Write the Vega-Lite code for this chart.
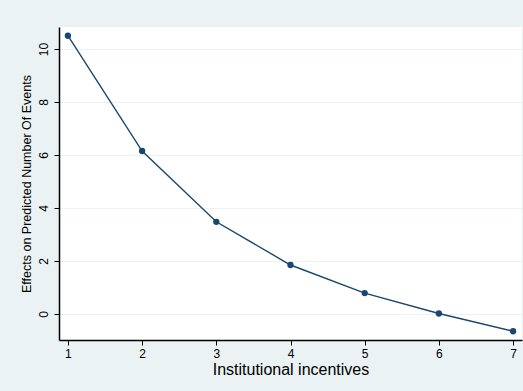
{
  "$schema": "https://vega.github.io/schema/vega-lite/v6.json",
  "width": 463,
  "height": 313,
  "autosize": {"type": "none"},
  "padding": {"left": 59, "top": 27, "right": 1, "bottom": 51},
  "background": "#EAF2F3",
  "config": {
    "view": {"fill": "white", "stroke": null},
    "font": "Liberation Sans",
    "axis": {
      "domainColor": "black",
      "tickColor": "black",
      "labelColor": "black",
      "titleColor": "black",
      "titleFontWeight": "normal",
      "labelFont": "Liberation Sans",
      "titleFont": "Liberation Sans"
    }
  },
  "data": {
    "values": [
      {"x": 1, "y": 10.5},
      {"x": 2, "y": 6.15},
      {"x": 3, "y": 3.48},
      {"x": 4, "y": 1.85},
      {"x": 5, "y": 0.79},
      {"x": 6, "y": 0.02},
      {"x": 7, "y": -0.65}
    ]
  },
  "layer": [
    {
      "mark": {"type": "line", "color": "#1A476F", "strokeWidth": 1.4},
      "encoding": {
        "x": {
          "field": "x", "type": "quantitative",
          "scale": {"domain": [0.88, 7.12], "nice": false, "zero": false},
          "axis": {
            "title": "Institutional incentives",
            "values": [1, 2, 3, 4, 5, 6, 7],
            "format": "d",
            "grid": false,
            "tickSize": 5,
            "labelFontSize": 12,
            "labelPadding": 3,
            "titleFontSize": 16,
            "titlePadding": 2,
            "domainWidth": 1.5
          }
        },
        "y": {
          "field": "y", "type": "quantitative",
          "scale": {"domain": [-0.98, 10.83], "nice": false, "zero": false},
          "axis": {
            "title": "Effects on Predicted Number Of Events",
            "values": [0, 2, 4, 6, 8, 10],
            "format": "d",
            "grid": true,
            "gridColor": "#EAF2F3",
            "gridWidth": 1,
            "tickSize": 5,
            "labelAngle": -90,
            "labelAlign": "center",
            "labelBaseline": "bottom",
            "labelFontSize": 12,
            "labelPadding": 4,
            "titleFontSize": 12.5,
            "titlePadding": 4,
            "domainWidth": 1.5
          }
        }
      }
    },
    {
      "mark": {"type": "point", "filled": true, "color": "#1A476F", "opacity": 1, "size": 40},
      "encoding": {
        "x": {"field": "x", "type": "quantitative"},
        "y": {"field": "y", "type": "quantitative"}
      }
    }
  ]
}
